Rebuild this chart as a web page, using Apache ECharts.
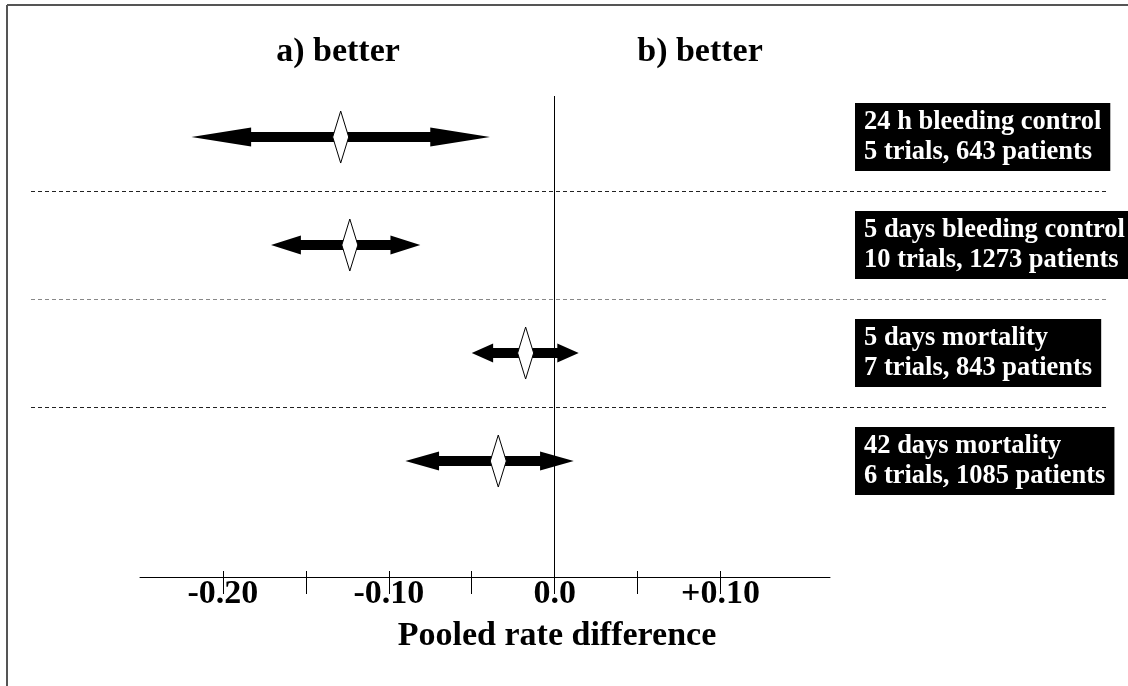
<!DOCTYPE html>
<html>
<head>
<meta charset="utf-8">
<script src="https://cdn.jsdelivr.net/npm/echarts@6/dist/echarts.min.js"></script>
<style>
html,body{margin:0;padding:0;background:#fff;}
#chart{width:1128px;height:686px;}
</style>
</head>
<body>
<div id="chart"></div>
<script>
// ---- data ----
const outcomeNames = ['24 h bleeding control', '5 days bleeding control', '5 days mortality', '42 days mortality'];
const trialInfo = ['5 trials, 643 patients', '10 trials, 1273 patients', '7 trials, 843 patients', '6 trials, 1085 patients'];
const pooledDiff = [-0.129, -0.1235, -0.0175, -0.034];
const ciLower = [-0.219, -0.171, -0.050, -0.090];
const ciUpper = [-0.039, -0.081, 0.0145, 0.0115];
const tickValues = [-0.20, -0.15, -0.10, -0.05, 0, 0.05, 0.10];
const labelValues = [-0.20, -0.10, 0, 0.10];
const labelTexts = ['-0.20', '-0.10', '0.0', '+0.10'];
const sideTitles = ['a) better', 'b) better'];
const axisTitle = 'Pooled rate difference';

const FONT = '"Liberation Serif", "Times New Roman", serif';
const chart = echarts.init(document.getElementById('chart'), null, {renderer: 'canvas'});

const rowData = outcomeNames.map((n, i) => [ciLower[i], ciUpper[i], pooledDiff[i], i]);
const sepData = outcomeNames.slice(1).map((n, i) => [0, i + 0.5]);
const sepColors = ['#222', '#888', '#222'];

function renderForest(params, api) {
  const y = api.coord([0, api.value(3)])[1];
  const L = api.coord([api.value(0), 0])[0];
  const R = api.coord([api.value(1), 0])[0];
  const P = api.coord([api.value(2), 0])[0];
  const hl = 0.2 * (R - L), hh = 9.5, sh = 5;
  const arrow = [[L, y], [L + hl, y - hh], [L + hl, y - sh], [R - hl, y - sh], [R - hl, y - hh], [R, y],
    [R - hl, y + hh], [R - hl, y + sh], [L + hl, y + sh], [L + hl, y + hh]];
  const dw = 8, dh = 26;
  return {
    type: 'group',
    children: [
      {type: 'polygon', shape: {points: arrow}, style: {fill: '#000'}},
      {type: 'polygon', shape: {points: [[P, y - dh], [P + dw, y], [P, y + dh], [P - dw, y]]},
        style: {fill: '#fff', stroke: '#000', lineWidth: 1}}
    ]
  };
}

function renderSep(params, api) {
  const y = Math.round(api.coord([0, api.value(1)])[1]) + 0.5;
  return {
    type: 'line',
    shape: {x1: 31, y1: y, x2: 1106, y2: y},
    style: {stroke: sepColors[params.dataIndex], lineWidth: 1, lineDash: [4, 3]}
  };
}

function renderLabel(params, api) {
  const i = params.dataIndex;
  const y = api.coord([0, api.value(3)])[1];
  return {
    type: 'text',
    x: 855, y: y,
    style: {
      text: outcomeNames[i] + '\n' + trialInfo[i],
      fill: '#fff',
      font: 'bold 26.5px ' + FONT,
      lineHeight: 30,
      backgroundColor: '#000',
      padding: [4, 9, 4, 9],
      align: 'left',
      verticalAlign: 'middle'
    }
  };
}

const option = {
  backgroundColor: '#fff',
  animation: false,
  grid: {left: 140, right: 298, top: 96, bottom: 109, containLabel: false},
  xAxis: [{
    type: 'value', min: -0.25, max: 0.166, position: 'bottom',
    axisLine: {show: true, onZero: false, lineStyle: {color: '#000', width: 1}},
    axisTick: {show: true, inside: false, length: 17, lineStyle: {color: '#000', width: 1}, customValues: tickValues},
    axisLabel: {
      show: true, margin: 0, customValues: labelValues,
      formatter: v => { const k = labelValues.findIndex(t => Math.abs(t - v) < 1e-9); return k >= 0 ? labelTexts[k] : ''; },
      color: '#000', fontFamily: FONT, fontWeight: 'bold', fontSize: 34
    },
    splitLine: {show: false}
  }, {
    type: 'value', min: -0.25, max: 0.166, position: 'bottom',
    axisLine: {show: false, onZero: false},
    axisTick: {show: true, inside: true, length: 6, lineStyle: {color: '#000', width: 1}, customValues: tickValues},
    axisLabel: {show: false},
    splitLine: {show: false}
  }],
  yAxis: {
    type: 'value', min: -0.38, max: 4.074, inverse: true, show: false,
    splitLine: {show: false}
  },
  graphic: [
    {type: 'line', shape: {x1: 7, y1: 5, x2: 1128, y2: 5}, style: {stroke: '#555', lineWidth: 2}},
    {type: 'line', shape: {x1: 7, y1: 5, x2: 7, y2: 686}, style: {stroke: '#555', lineWidth: 2}},
    {type: 'text', x: 338, y: 52, style: {text: sideTitles[0], font: 'bold 34px ' + FONT, fill: '#000', align: 'center', verticalAlign: 'middle'}},
    {type: 'text', x: 700, y: 52, style: {text: sideTitles[1], font: 'bold 34px ' + FONT, fill: '#000', align: 'center', verticalAlign: 'middle'}},
    {type: 'text', x: 557, y: 636, style: {text: axisTitle, font: 'bold 34px ' + FONT, fill: '#000', align: 'center', verticalAlign: 'middle'}}
  ],
  series: [
    {
      type: 'custom', name: 'separators', renderItem: renderSep, data: sepData,
      encode: {x: 0, y: 1}, silent: true, clip: false, z: 1
    },
    {
      type: 'custom', name: 'pooled', renderItem: renderForest, data: rowData,
      encode: {x: [0, 1, 2], y: 3}, clip: false, z: 3,
      markLine: {
        silent: true, symbol: 'none', label: {show: false},
        lineStyle: {color: '#000', width: 1, type: 'solid'},
        data: [{xAxis: 0}]
      }
    },
    {
      type: 'custom', name: 'labels', renderItem: renderLabel, data: rowData,
      encode: {x: [0, 1, 2], y: 3}, clip: false, z: 4
    }
  ]
};
chart.setOption(option);
</script>
</body>
</html>
